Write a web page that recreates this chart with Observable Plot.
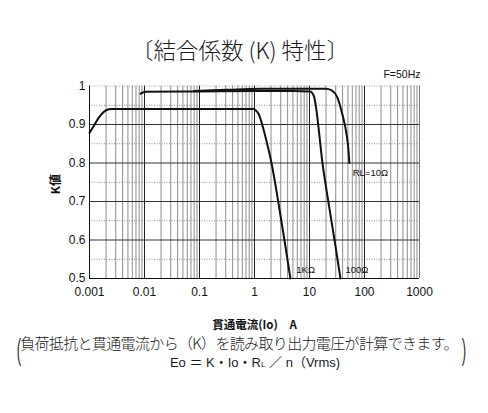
<!DOCTYPE html>
<html>
<head>
<meta charset="utf-8">
<script src="https://cdn.jsdelivr.net/npm/d3@7"></script>
<script src="https://cdn.jsdelivr.net/npm/@observablehq/plot@0.6"></script>
<style>
  html, body { margin: 0; padding: 0; background: #fff; }
  #wrap { width: 488px; height: 413px; position: relative; overflow: hidden; color: #1a1a1a; }
  #title { height: 62px; box-sizing: border-box; padding-top: 37px; padding-right: 8px; text-align: center;
           font-family: "Noto Sans CJK JP", "Noto Sans", sans-serif; font-weight: 300; font-size: 22.5px; line-height: 24px; }
  #chart { height: 272px; }
  #caption { position: relative; height: 79px; font-family: "Noto Sans CJK JP", "Noto Sans", sans-serif; font-weight: 300; }
  .cap { position: absolute; left: 0; white-space: nowrap; text-align: center; }
  #cap1 { top: 1px; width: 478px; font-size: 15px; line-height: 15px; letter-spacing: -0.65px; }
  #cap2 { top: 22px; width: 510px; font-size: 13px; line-height: 13px; font-family: "Liberation Sans", "Noto Sans CJK JP", sans-serif; font-weight: 400; }
  .paren { position: absolute; top: 2px; font-family: "Liberation Sans", sans-serif; font-weight: 400; font-size: 29px; line-height: 29px; transform: scaleX(0.45); color: #333; }
</style>
</head>
<body>
<div id="wrap">
  <div id="title"></div>
  <div id="chart"></div>
  <div id="caption">
    <span class="paren" id="pl" style="left:14px;">(</span>
    <div class="cap" id="cap1"></div>
    <div class="cap" id="cap2"></div>
    <span class="paren" id="pr" style="left:459px;">)</span>
  </div>
</div>
<script>
// ---- texts ----
const titleText = "〔結合係数 (K) 特性〕";
const freqLabel = "F=50Hz";
const xAxisLabel = "貫通電流(Io)　A";
const yAxisLabel = "K値";
const captionLine1 = "負荷抵抗と貫通電流から（K）を読み取り出力電圧が計算できます。";
const captionLine2a = "Eo ＝ K・Io・R";
const captionLine2sub = "L";
const captionLine2b = " ／ n（Vrms)";

// ---- ticks ----
const xTicks = [0.001, 0.01, 0.1, 1, 10, 100, 1000];
const xTickLabels = ["0.001", "0.01", "0.1", "1", "10", "100", "1000"];
const yTicks = [0.5, 0.6, 0.7, 0.8, 0.9, 1];
const yTickLabels = ["0.5", "0.6", "0.7", "0.8", "0.9", "1"];
const yHalfTicks = [0.55, 0.65, 0.75, 0.85, 0.95];

// ---- series: 1KΩ ----
const io1k = [0.001, 0.0012, 0.0015, 0.002, 0.0025, 0.01, 0.1, 0.5, 0.97, 1.05, 1.2, 1.48, 1.82, 2.0, 2.7, 3.5, 4.5];
const k1k  = [0.878, 0.897, 0.919, 0.937, 0.940, 0.940, 0.940, 0.940, 0.940, 0.937, 0.926, 0.884, 0.832, 0.806, 0.70, 0.60, 0.50];
// ---- series: 100Ω ----
const io100 = [0.0085, 0.0104, 0.1, 1, 5, 10.2, 12, 13.4, 14.8, 17, 22, 28.5, 36.6];
const k100  = [0.980, 0.985, 0.986, 0.987, 0.987, 0.986, 0.974, 0.936, 0.884, 0.806, 0.70, 0.60, 0.50];
// ---- series: 10Ω ----
const io10 = [0.08, 0.3, 1.3, 5, 20, 25, 31.9, 39.3, 47, 51, 53];
const k10  = [0.987, 0.990, 0.993, 0.993, 0.993, 0.989, 0.971, 0.928, 0.876, 0.835, 0.800];

// ---- curve labels ----
const curveNames = ["1KΩ", "100Ω", "RL=10Ω"];
const curveLabelIo = [8.5, 73, 128];
const curveLabelK = [0.521, 0.521, 0.773];

// ---- build tables ----
const series = [
  ...io1k.map((x, i) => ({name: "1K", io: x, k: k1k[i]})),
  ...io100.map((x, i) => ({name: "100", io: x, k: k100[i]})),
  ...io10.map((x, i) => ({name: "10", io: x, k: k10[i]}))
];
const labels = curveNames.map((t, i) => ({t, io: curveLabelIo[i], k: curveLabelK[i]}));
const decades = xTicks.slice(0, -1);
const minorX = decades.flatMap(d => [2, 3, 4, 5, 6, 7, 8, 9].map(m => +(d * m).toPrecision(3)));
const innerDecades = xTicks.slice(1, -1);

document.getElementById("title").textContent = titleText;
document.getElementById("cap1").textContent = captionLine1;
const c2 = document.getElementById("cap2");
c2.append(captionLine2a);
const sub = document.createElement("span");
sub.style.fontSize = "8px";
sub.textContent = captionLine2sub;
c2.append(sub);
c2.append(captionLine2b);

const cjk = "'Noto Sans CJK JP', 'Noto Sans', sans-serif";

const chart = Plot.plot({
  width: 488,
  height: 272,
  marginLeft: 89,
  marginRight: 69,
  marginTop: 23.5,
  marginBottom: 56,
  style: {fontFamily: "'Liberation Sans', Arial, sans-serif", fontSize: "12px", color: "#111", background: "white"},
  x: {type: "log", domain: [0.001, 1000], ticks: xTicks, tickFormat: d => xTickLabels[xTicks.indexOf(d)], tickSize: 0, tickPadding: 8.5, label: null},
  y: {domain: [0.5, 1], ticks: yTicks, tickFormat: d => yTickLabels[yTicks.indexOf(d)], tickSize: 0, tickPadding: 4, label: null},
  marks: [
    Plot.ruleX(minorX, {stroke: "#8c8c8c", strokeWidth: 1}),
    Plot.ruleY(yHalfTicks, {stroke: "#8a8a8a", strokeDasharray: "1,1.5"}),
    Plot.ruleY(yTicks.slice(1, -1), {stroke: "#333", strokeWidth: 1}),
    Plot.ruleY([1], {stroke: "#aaa", strokeDasharray: "1,1.5"}),
    Plot.ruleX(innerDecades, {stroke: "#222", strokeWidth: 1}),
    Plot.ruleX([1000], {stroke: "#777"}),
    Plot.ruleX([0.001], {stroke: "#111"}),
    Plot.ruleY([0.5], {stroke: "#111"}),
    Plot.line(series, {x: "io", y: "k", z: "name", stroke: "#111", strokeWidth: 2, curve: "monotone-x"}),
    Plot.text(labels, {x: "io", y: "k", text: "t", fontSize: 9.5, fill: "#111"}),
    Plot.text([freqLabel], {frameAnchor: "top-right", text: d => d, dx: 1, dy: -15.5, textAnchor: "end", fontSize: 10.5, fill: "#111"}),
    Plot.text([xAxisLabel], {frameAnchor: "bottom", text: d => d, dy: 50, fontSize: 11.5, fontWeight: "bold", fontFamily: cjk, fill: "#111"}),
    Plot.text([yAxisLabel], {frameAnchor: "left", text: d => d, rotate: -90, dx: -33, dy: 12, fontSize: 12, fontWeight: "bold", fontFamily: cjk, fill: "#111"})
  ]
});
document.getElementById("chart").appendChild(chart);
</script>
</body>
</html>
